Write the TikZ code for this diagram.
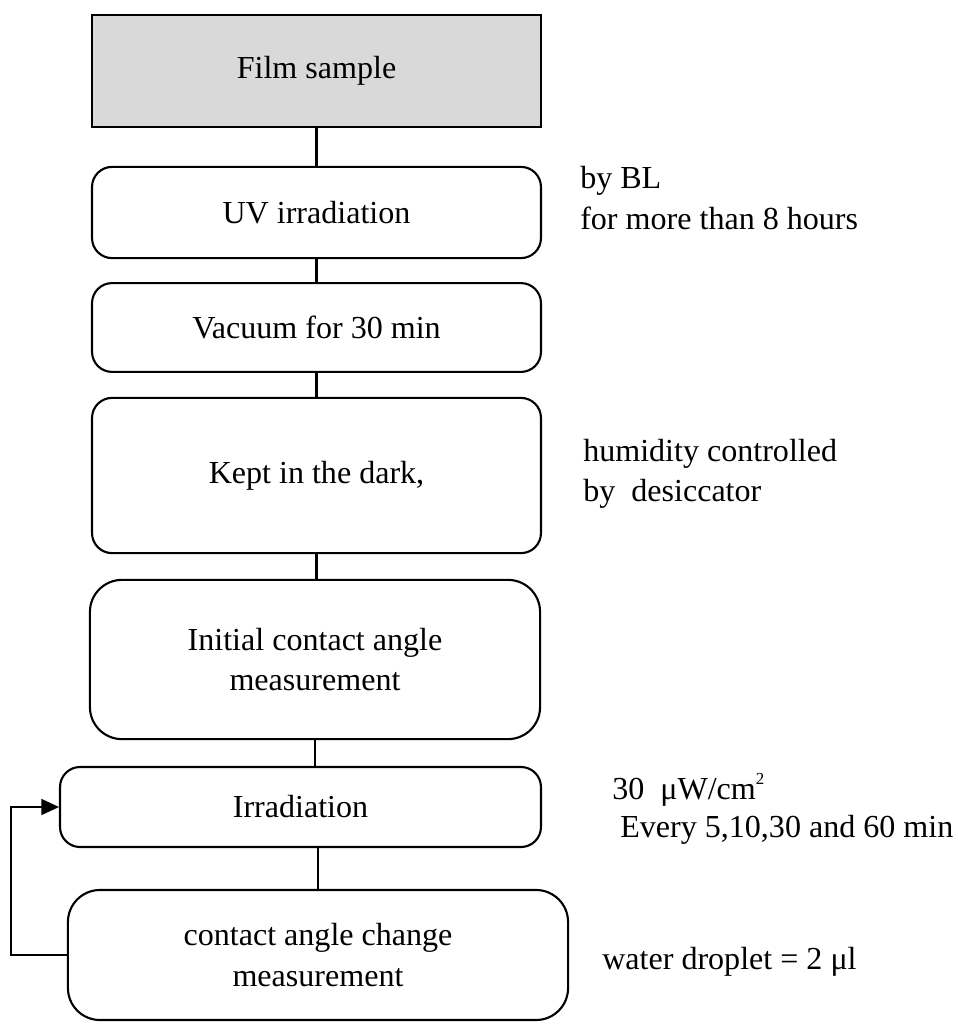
\documentclass[tikz,border=0pt]{standalone}
\usepackage{fontspec}
\setmainfont{Liberation Serif}
\usetikzlibrary{arrows.meta, positioning}
\tikzset{
  stepbox/.style={rectangle, draw=black, fill=white, line width=1.5pt,
                  rounded corners=0.5cm, align=center, inner sep=0pt},
  tallbox/.style={stepbox, rounded corners=0.8cm},
  samplebox/.style={rectangle, draw=black, fill=black!15, line width=1.5pt,
                    align=center, inner sep=0pt},
  note/.style={anchor=west, align=left, inner sep=0pt},
  link/.style={draw=black, line width=1.5pt},
  back/.style={draw=black, line width=1.1pt,
               -{Triangle[length=0.44cm, width=0.4cm]}},
}

\begin{document}
\begin{tikzpicture}[x=0.025cm, y=-0.025cm,
  every node/.style={font=\fontsize{22.8pt}{28.5pt}\selectfont}]
  \useasboundingbox (0,0) rectangle (958,1026);

  % process steps
  \node[samplebox, minimum width=11.22cm, minimum height=2.8cm] (film) at (316.5,71) {Film sample};
  \node[stepbox, minimum width=11.22cm, minimum height=2.28cm] (uv) at (316.5,212.5) {UV irradiation};
  \node[stepbox, minimum width=11.22cm, minimum height=2.22cm] (vac) at (316.5,327.5) {Vacuum for 30 min};
  \node[stepbox, minimum width=11.22cm, minimum height=3.88cm] (dark) at (316.5,475.5) {Kept in the dark,};
  \node[tallbox, minimum width=11.25cm, minimum height=3.98cm] (init) at (315,659.5)
    {Initial contact angle\\measurement};
  \node[stepbox, minimum width=12.02cm, minimum height=2.0cm] (irr) at (300.5,807) {Irradiation};
  \node[tallbox, minimum width=12.5cm, minimum height=3.25cm] (chg) at (318,955)
    {contact angle change\\measurement};

  % conditions
  \node[note] (bl) at (580,198) {by BL\\for more than 8 hours};
  \node[note] (hum) at (583,474) {humidity controlled\\by\ \ desiccator};
  \node[note] (pow) at (612,790) {30\ \ μW/cm\raisebox{1.0ex}{\fontsize{12pt}{12pt}\selectfont 2}};
  \node[note] (every) at (620,830) {Every 5,10,30 and 60 min};
  \node[note] (drop) at (602,962) {water droplet = 2 μl};

  % connectors
  \draw[link] (film.south) -- (film.south |- uv.north);
  \draw[link] (uv.south) -- (uv.south |- vac.north);
  \draw[link] (vac.south) -- (vac.south |- dark.north);
  \draw[link] (dark.south) -- (dark.south |- init.north);
  \draw[link] (init.south) -- (init.south |- irr.north);
  \draw[link] (chg.north |- irr.south) -- (chg.north);

  % repeat loop
  \draw[back] (chg.west) -- ++(-56,0) |- (irr.west);
\end{tikzpicture}
\end{document}
